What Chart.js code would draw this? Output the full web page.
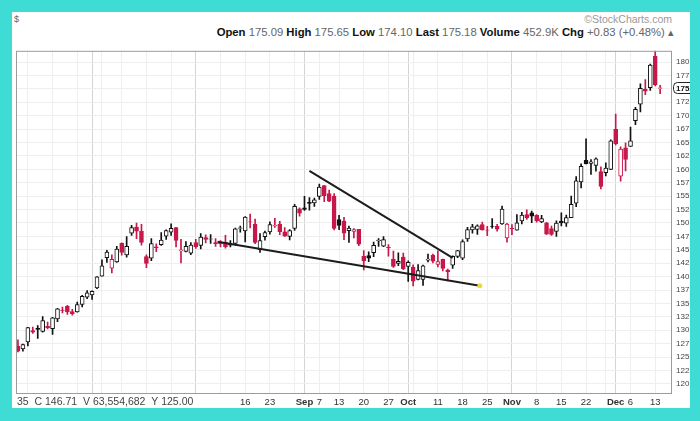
<!DOCTYPE html>
<html>
<head>
<meta charset="utf-8">
<script src="https://cdn.jsdelivr.net/npm/chart.js@4.4.0/dist/chart.umd.min.js"></script>
<style>
html, body { margin: 0; padding: 0; width: 700px; height: 421px; overflow: hidden; background: #3edcd4; font-family: Arial, "Liberation Sans", sans-serif; }
#panel { position: absolute; left: 12px; top: 12px; width: 678px; height: 396px; background: #fff; overflow: hidden; }
#sym { position: absolute; left: 2px; top: 2px; font-size: 9px; color: #666; }
#brand { position: absolute; right: 18px; top: 1px; font-size: 10.5px; color: #999; }
#quote { position: absolute; right: 16px; top: 14px; font-size: 11.3px; color: #666; white-space: nowrap; }
#quote b { color: #111; }
#chartBox { position: absolute; left: 0; top: 30px; }
</style>
</head>
<body>
<div id="panel">
  <div id="sym">$</div>
  <div id="brand">&copy;StockCharts.com</div>
  <div id="quote"><b>Open</b> 175.09 <b>High</b> 175.65 <b>Low</b> 174.10 <b>Last</b> 175.18 <b>Volume</b> 452.9K <b>Chg</b> +0.83 (+0.48%) &#9652;</div>
  <div id="chartBox"><canvas id="chartPreco" width="690" height="370"></canvas></div>
</div>
<script>
// trading days, Jun 10 -> Dec 14
const dates = ['Jun 10','Jun 11','Jun 14','Jun 15','Jun 16','Jun 17','Jun 18','Jun 21','Jun 22','Jun 23','Jun 24','Jun 25','Jun 28','Jun 29','Jun 30',
  'Jul 1','Jul 2','Jul 6','Jul 7','Jul 8','Jul 9','Jul 12','Jul 13','Jul 14','Jul 15','Jul 16','Jul 19','Jul 20','Jul 21','Jul 22','Jul 23','Jul 26','Jul 27','Jul 28','Jul 29','Jul 30',
  'Aug 2','Aug 3','Aug 4','Aug 5','Aug 6','Aug 9','Aug 10','Aug 11','Aug 12','Aug 13','Aug 16','Aug 17','Aug 18','Aug 19','Aug 20','Aug 23','Aug 24','Aug 25','Aug 26','Aug 27','Aug 30','Aug 31',
  'Sep 1','Sep 2','Sep 3','Sep 7','Sep 8','Sep 9','Sep 10','Sep 13','Sep 14','Sep 15','Sep 16','Sep 17','Sep 20','Sep 21','Sep 22','Sep 23','Sep 24','Sep 27','Sep 28','Sep 29','Sep 30',
  'Oct 1','Oct 4','Oct 5','Oct 6','Oct 7','Oct 8','Oct 11','Oct 12','Oct 13','Oct 14','Oct 15','Oct 18','Oct 19','Oct 20','Oct 21','Oct 22','Oct 25','Oct 26','Oct 27','Oct 28','Oct 29',
  'Nov 1','Nov 2','Nov 3','Nov 4','Nov 5','Nov 8','Nov 9','Nov 10','Nov 11','Nov 12','Nov 15','Nov 16','Nov 17','Nov 18','Nov 19','Nov 22','Nov 23','Nov 24','Nov 26','Nov 29','Nov 30',
  'Dec 1','Dec 2','Dec 3','Dec 6','Dec 7','Dec 8','Dec 9','Dec 10','Dec 13','Dec 14'];

const opens = [127.02,126.53,127.82,129.94,130.37,129.80,130.71,130.30,132.13,133.77,134.45,133.46,133.41,134.80,136.17,
  136.60,137.90,140.07,143.54,141.58,142.75,146.21,144.03,148.10,149.24,148.46,143.75,143.46,145.53,145.94,147.55,148.27,149.12,144.81,144.69,144.38,
  146.36,145.81,147.27,146.98,146.35,146.20,146.44,146.05,146.19,148.97,148.54,150.23,149.80,145.03,147.44,148.31,149.45,149.81,148.35,147.48,149.00,152.66,
  152.83,153.87,153.76,154.97,156.98,155.49,155.00,150.63,150.35,148.56,148.44,148.82,143.80,143.93,144.45,146.65,145.66,145.47,143.25,142.47,143.66,
  141.90,141.76,139.49,139.47,143.06,144.03,142.27,143.23,141.24,142.11,143.77,143.45,147.01,148.70,148.81,149.69,148.68,149.33,149.36,149.82,147.22,
  148.99,148.66,150.39,151.58,151.89,151.41,150.20,150.02,148.96,148.43,150.37,149.94,151.00,153.71,157.65,161.68,161.12,160.75,159.57,159.37,159.99,
  167.48,158.74,164.02,164.29,169.08,172.13,174.91,175.21,181.12,175.09];
const highs = [128.19,127.44,130.54,130.60,130.89,132.55,131.51,132.41,134.08,134.32,134.64,133.89,135.25,136.49,137.41,
  137.33,140.00,143.15,144.89,144.06,145.65,146.32,147.46,149.57,150.00,149.76,144.07,147.10,146.13,148.20,148.72,149.83,149.21,146.97,146.55,146.33,
  146.95,148.04,147.79,147.84,147.11,146.70,147.71,146.72,149.05,149.44,151.19,151.68,150.72,148.00,148.50,150.19,150.86,150.32,149.12,148.75,153.49,152.80,
  154.98,154.72,154.63,157.26,157.04,156.11,155.48,151.42,151.07,149.44,148.97,148.82,144.84,144.60,146.43,147.08,147.47,145.96,144.75,144.45,144.38,
  142.92,142.21,142.24,142.15,144.22,144.18,144.81,143.25,141.40,143.88,144.90,146.84,149.17,149.75,149.64,150.18,149.37,150.84,149.73,153.17,149.94,
  149.70,151.57,151.97,152.43,152.20,151.57,151.43,150.13,149.43,150.40,151.88,151.49,155.00,158.67,161.02,165.70,161.80,162.14,160.45,161.19,165.52,
  170.30,164.20,164.96,167.88,171.58,175.96,176.75,179.63,182.13,175.65];
const lows = [125.94,126.10,127.07,129.39,128.46,129.65,130.24,129.21,131.62,133.23,132.93,132.81,133.35,134.35,135.87,
  135.76,137.75,140.07,142.66,140.67,142.65,144.00,143.63,147.68,147.09,145.88,141.67,142.96,144.63,145.81,146.92,147.70,145.55,142.54,144.58,144.11,
  145.25,145.18,146.28,146.17,145.63,145.52,145.30,145.53,145.84,148.27,146.47,149.09,146.15,144.50,146.78,147.89,149.15,147.80,147.51,146.83,148.61,151.29,
  152.34,152.40,153.09,154.39,153.98,153.95,148.70,148.75,146.91,146.37,147.22,145.76,141.27,142.78,143.70,145.64,145.56,143.82,141.69,142.03,141.28,
  139.11,138.27,139.36,138.37,142.72,142.56,141.81,141.04,139.20,141.51,143.51,143.16,146.55,148.12,147.87,148.64,147.62,149.01,148.49,149.72,146.41,
  147.80,148.65,149.82,150.64,150.06,150.16,150.06,147.85,147.68,147.48,149.43,149.34,150.99,153.05,156.53,161.00,159.06,159.64,156.36,158.79,159.92,
  164.53,157.80,159.72,164.28,168.34,170.70,173.92,174.69,175.53,174.10];
const closes = [126.11,127.35,130.48,129.64,130.15,131.79,130.46,132.30,133.98,133.70,133.41,133.11,134.78,136.33,136.96,
  137.27,139.96,142.02,144.57,143.24,145.11,144.50,145.64,149.15,148.48,146.39,142.45,146.15,145.40,146.80,148.56,148.99,146.77,144.98,145.64,145.86,
  145.52,147.36,146.95,147.06,146.14,146.09,145.60,145.86,148.89,149.10,151.12,150.19,146.36,146.70,148.19,149.71,149.62,148.36,147.54,148.60,153.12,151.83,
  152.51,153.65,154.30,156.69,155.11,154.07,148.97,149.55,148.12,149.03,148.79,146.06,142.94,143.43,145.85,146.83,146.92,145.37,141.91,142.83,141.50,
  142.65,139.14,141.11,142.00,143.29,142.90,142.81,141.51,140.91,143.76,144.84,146.55,148.76,149.26,149.48,148.69,148.64,149.32,148.85,152.57,149.80,
  148.96,150.02,151.49,150.96,151.28,150.44,150.81,147.92,147.87,149.99,150.00,151.00,153.49,157.87,160.55,161.02,161.41,161.94,156.81,160.24,165.30,
  164.77,163.76,161.84,165.32,171.18,175.08,174.56,179.45,175.74,175.18];

// x axis: week / month ticks (index into dates)
const xTickIdx  = [2, 7, 12, 15, 17, 21, 26, 31, 36, 41, 46, 51, 56, 58, 61, 65, 70, 75, 79, 80, 85, 90, 95, 100, 105, 110, 115, 119, 121, 124, 129];
const xTickText = ['14','21','28','Jul','','12','19','26','Aug','9','16','23','','Sep','7','13','20','27','Oct','','11','18','25','Nov','8','15','22','','Dec','6','13'];
const months = ['Jul','Aug','Sep','Oct','Nov','Dec'];

const yTicks = [120,122.5,125,127.5,130,132.5,135,137.5,140,142.5,145,147.5,150,152.5,155,157.5,160,162.5,165,167.5,170,172.5,175,177.5,180];

// trend lines drawn on the chart (day index, price)
const upperTrendX = [59, 88];
const upperTrendY = [159.7, 143.5];
const lowerTrendX = [40.4, 93.5];
const lowerTrendY = [146.5, 138.3];

const overlayText = '35  C 146.71  V 63,554,682  Y 125.00';

const RED = '#c8174a';
const BLK = '#111111';
const corCandle = closes.map((c, i) => c < (i > 0 ? closes[i - 1] : opens[i]) ? RED : BLK);
const corCorpo = closes.map((c, i) => c >= opens[i] ? '#ffffff' : corCandle[i]);

const moldura = {
  id: 'moldura',
  afterDraw(chart) {
    const { ctx, chartArea: a, scales: { y } } = chart;
    ctx.save();
    ctx.strokeStyle = '#9c9c9c';
    ctx.lineWidth = 1;
    ctx.strokeRect(a.left + 0.5, a.top + 0.5, a.right - a.left - 1, a.bottom - a.top);

    // last price marker
    const py = Math.round(y.getPixelForValue(closes[closes.length - 1]));
    ctx.fillStyle = '#fff';
    ctx.strokeStyle = '#222';
    ctx.beginPath();
    ctx.roundRect(a.right + 1.5, py - 5.5, 34, 11, 4);
    ctx.fill();
    ctx.stroke();
    ctx.fillStyle = '#111';
    ctx.font = 'bold 8px Arial';
    ctx.textBaseline = 'middle';
    ctx.fillText(closes[closes.length - 1].toFixed(2), a.right + 4, py + 0.5);

    // bottom-left data readout
    ctx.fillStyle = '#fff';
    ctx.fillRect(0, a.bottom + 1, 222, 18);
    ctx.fillStyle = '#444';
    ctx.font = '10.5px Arial';
    ctx.fillText(overlayText, 5, a.bottom + 9);
    ctx.restore();
  }
};

const chartPreco = document.getElementById('chartPreco');

new Chart(chartPreco, {
  type: 'bar',
  data: {
    datasets: [{
      type: 'line',
      data: upperTrendX.map((x, i) => ({ x: x, y: upperTrendY[i] })),
      borderColor: '#1c1c1c',
      borderWidth: 2,
      pointRadius: 0,
      order: 0
    }, {
      type: 'line',
      data: lowerTrendX.map((x, i) => ({ x: x, y: lowerTrendY[i] })),
      borderColor: '#1c1c1c',
      borderWidth: 2,
      pointRadius: [0, 2.5],
      pointBackgroundColor: '#e8dc3a',
      pointBorderWidth: 0,
      order: 0
    }, {
      data: opens.map((o, i) => ({ x: i, y: [o, closes[i]] })),
      backgroundColor: corCorpo,
      borderColor: corCandle,
      borderWidth: 1,
      borderSkipped: false,
      barThickness: 4,
      grouped: false,
      order: 1
    }, {
      data: lows.map((l, i) => ({ x: i, y: [l, highs[i]] })),
      backgroundColor: corCandle,
      borderWidth: 0,
      barThickness: 1,
      grouped: false,
      order: 2
    }]
  },
  options: {
    responsive: false,
    animation: false,
    devicePixelRatio: 1,
    layout: { padding: 0 },
    plugins: { legend: { display: false }, tooltip: { enabled: false } },
    scales: {
      x: {
        type: 'linear',
        min: -0.4,
        max: 132.4,
        offset: false,
        afterBuildTicks: (s) => { s.ticks = xTickIdx.map(v => ({ value: v })); },
        afterFit: (s) => { s.height = 19; },
        grid: {
          offset: false,
          drawTicks: false,
          color: (ctx) => months.includes(xTickText[ctx.index]) ? '#d4d4d4' : '#eeeeee'
        },
        border: { display: false },
        ticks: {
          autoSkip: false,
          maxRotation: 0,
          padding: 4,
          color: '#333',
          font: (ctx) => ({ family: 'Arial', size: 9.5, weight: months.includes(xTickText[ctx.index]) ? 'bold' : 'normal' }),
          callback: (v, i) => xTickText[i]
        }
      },
      y: {
        position: 'right',
        min: 118.3,
        max: 182.1,
        afterBuildTicks: (s) => { s.ticks = yTicks.map(v => ({ value: v })); },
        afterFit: (s) => { s.width = 30; },
        grid: { drawTicks: false, color: '#eeeeee' },
        border: { display: false },
        ticks: {
          padding: 4,
          color: '#444',
          font: { family: 'Arial', size: 8 },
          callback: (v) => v % 1 ? v.toFixed(1) : String(v)
        }
      }
    }
  },
  plugins: [moldura]
});
</script>
</body>
</html>
